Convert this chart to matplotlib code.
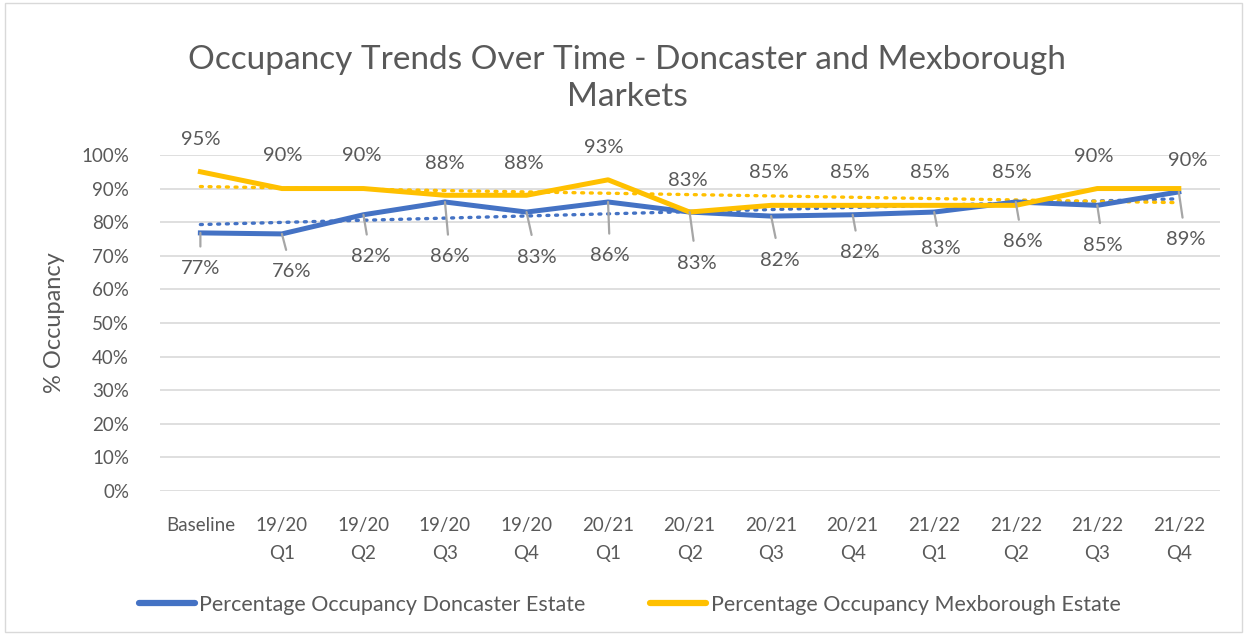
import numpy as np
import matplotlib
matplotlib.use("Agg")
import matplotlib.pyplot as plt
from matplotlib.patches import Rectangle

plt.rcParams['font.family'] = ['Lato', 'DejaVu Sans']

categories = ["Baseline", "19/20\nQ1", "19/20\nQ2", "19/20\nQ3", "19/20\nQ4",
              "20/21\nQ1", "20/21\nQ2", "20/21\nQ3", "20/21\nQ4",
              "21/22\nQ1", "21/22\nQ2", "21/22\nQ3", "21/22\nQ4"]
doncaster = [76.8, 76.5, 82.2, 86, 83, 86, 83, 81.8, 82.2, 83, 86, 85, 89]
mexborough = [95, 90, 90, 88, 88, 92.6, 83, 85, 85, 85, 85, 90, 90]
doncaster_labels = ["77%", "76%", "82%", "86%", "83%", "86%", "83%", "82%", "82%", "83%", "86%", "85%", "89%"]
mexborough_labels = ["95%", "90%", "90%", "88%", "88%", "93%", "83%", "85%", "85%", "85%", "85%", "90%", "90%"]

# label offsets in pixels (dx right, dy down)
don_off = [(0, 36), (10, 38), (7, 42), (5, 55), (10, 45), (2, 54), (7, 51),
           (9, 44), (7, 38), (7, 36), (7, 40), (6, 40), (7, 48)]
mex_off = [(0, -32), (1, -33), (-2, -33), (0, -32), (-3, -32), (-4, -32), (-2, -32),
           (-2, -33), (-3, -33), (-4, -33), (-4, -33), (-4, -32), (9, -28)]

BLUE = "#4472C4"
YELLOW = "#FFC000"
GRAY_TXT = "#595959"

fig = plt.figure(figsize=(12.47, 6.35), dpi=100)
fig.patches.append(Rectangle((0.004, 0.004), 0.992, 0.992, transform=fig.transFigure,
                             fill=False, edgecolor="#d9d9d9", linewidth=1))
ax = fig.add_axes([0.128, 0.2268, 0.85, 0.5292])
x = np.arange(len(categories))

ax.set_ylim(0, 100)
ax.set_xlim(-0.5, len(categories) - 0.5)
ax.set_yticks(np.arange(0, 101, 10))
ax.set_yticklabels([f"{v}%" for v in range(0, 101, 10)])
ax.grid(axis='y', color="#d9d9d9", linewidth=1.2)
ax.set_axisbelow(True)
for s in ax.spines.values():
    s.set_visible(False)
ax.tick_params(axis='both', length=0, labelsize=13.5, labelcolor=GRAY_TXT)
ax.tick_params(axis='y', pad=22)
ax.tick_params(axis='x', pad=19)
ax.set_xticks(x)
ax.set_xticklabels(categories, linespacing=1.75)
ax.set_ylabel("% Occupancy", fontsize=17, color=GRAY_TXT, labelpad=12)

# trendlines
for vals, col in ((doncaster, BLUE), (mexborough, YELLOW)):
    p = np.polyfit(x, vals, 1)
    ax.plot(x, np.polyval(p, x), linestyle=(0, (0.6, 2.0)), color=col,
            linewidth=2.4, dash_capstyle='round', zorder=2)

ax.plot(x, doncaster, color=BLUE, linewidth=3.6, solid_joinstyle='round', zorder=3,
        label="Percentage Occupancy Doncaster Estate")
ax.plot(x, mexborough, color=YELLOW, linewidth=3.6, solid_joinstyle='round', zorder=4,
        label="Percentage Occupancy Mexborough Estate")

k = 0.72  # px -> points at 100 dpi
for xi, v, lab, (dx, dy) in zip(x, doncaster, doncaster_labels, don_off):
    ax.annotate(lab, (xi, v), xytext=(dx * k, -dy * k), textcoords='offset points',
                ha='center', va='center', fontsize=14.5, color=GRAY_TXT, zorder=6,
                arrowprops=dict(arrowstyle='-', color="#a6a6a6", lw=1.6,
                                shrinkA=8, shrinkB=0))
for xi, v, lab, (dx, dy) in zip(x, mexborough, mexborough_labels, mex_off):
    ax.annotate(lab, (xi, v), xytext=(dx * k, -dy * k), textcoords='offset points',
                ha='center', va='center', fontsize=14.5, color=GRAY_TXT, zorder=6)

fig.text(0.503, 0.877, "Occupancy Trends Over Time - Doncaster and Mexborough\nMarkets",
         ha='center', va='center', fontsize=24, color=GRAY_TXT, linespacing=1.3)

leg = fig.legend(loc='center', bbox_to_anchor=(0.505, 0.048), ncol=2, frameon=False,
                 fontsize=15.5, handlelength=2.6, handletextpad=0.2, columnspacing=3.0)
for t in leg.get_texts():
    t.set_color(GRAY_TXT)
for h in leg.get_lines():
    h.set_linewidth(4.5)
    h.set_solid_capstyle('round')

fig.savefig("out.png", dpi=100)
